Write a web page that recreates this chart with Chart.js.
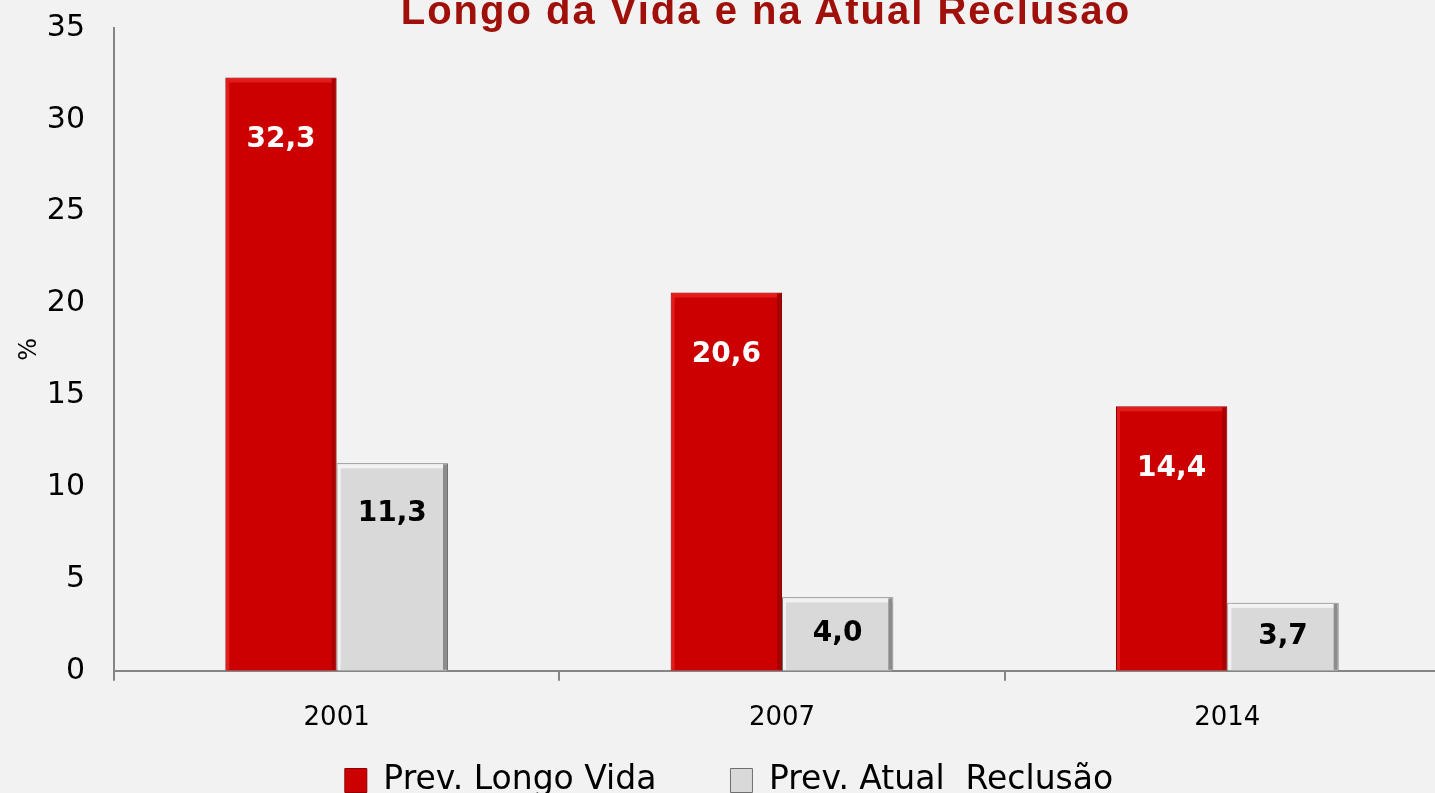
<!DOCTYPE html>
<html>
<head>
<meta charset="utf-8">
<title>Prevalencia</title>
<script src="https://cdn.jsdelivr.net/npm/chart.js@4/dist/chart.umd.min.js"></script>
<style>
    html, body { margin: 0; padding: 0; background: #f2f2f2; overflow: hidden; }
    #wrap { position: relative; width: 1435px; height: 793px; overflow: hidden; }
    #title {
        position: absolute; left: 0; width: 1532px; top: -10px;
        text-align: center; line-height: 1; letter-spacing: 2px;
        font-family: "Liberation Sans", Arial, sans-serif; font-weight: bold; font-size: 40px;
        color: #a0100a; z-index: 2;
    }
    #chart { position: absolute; left: 0; top: 0; }
</style>
</head>
<body>
<div id="wrap">
    <div id="title">Longo da Vida e na Atual Reclusão</div>
    <canvas id="chart" width="1450" height="807"></canvas>
</div>
<script>
// data
var years = ['2001', '2007', '2014'];
var prevLongoVida = [32.3, 20.6, 14.4];
var prevAtualReclusao = [11.3, 4.0, 3.7];
var seriesNames = ['Prev. Longo Vida', 'Prev. Atual  Reclusão'];
var yTicksMax = 35;
var yTicksStep = 5;

// draws value labels inside the top of each bar
var valueLabels = {
    id: 'valueLabels',
    afterDatasetsDraw: function (chart) {
        var ctx = chart.ctx;
        ctx.save();
        ctx.font = 'bold 28px "DejaVu Sans", Verdana, sans-serif';
        ctx.textAlign = 'center';
        ctx.textBaseline = 'middle';
        chart.data.datasets.forEach(function (ds, i) {
            var meta = chart.getDatasetMeta(i);
            meta.data.forEach(function (bar, j) {
                var h = bar.base - bar.y;
                var off = Math.min(ds.labelOffset, h / 2);
                ctx.fillStyle = ds.labelColor;
                ctx.fillText(ds.data[j].toFixed(1).replace('.', ','), bar.x, bar.y + off);
            });
        });
        ctx.restore();
    }
};

// fake the bevelled look of the original bars
var bevel = {
    id: 'bevel',
    afterDatasetsDraw: function (chart) {
        var ctx = chart.ctx;
        ctx.save();
        chart.data.datasets.forEach(function (ds, i) {
            chart.getDatasetMeta(i).data.forEach(function (bar) {
                var l = bar.x - bar.width / 2, r = bar.x + bar.width / 2;
                var t = bar.y, b = bar.base;
                ctx.fillStyle = ds.lightColor;
                ctx.fillRect(l + 1, t + 1, r - l - 2, 4);
                ctx.fillRect(l + 1, t + 1, 3, b - t - 2);
                ctx.fillStyle = ds.darkColor;
                ctx.fillRect(r - 5, t + 1, 4, b - t - 2);
            });
        });
        ctx.restore();
    }
};

var axisColor = '#858585';
var fontFamily = '"DejaVu Sans", Verdana, sans-serif';

var chart = new Chart(document.getElementById('chart'), {
    type: 'bar',
    data: {
        labels: years,
        datasets: [{
            label: seriesNames[0],
            data: prevLongoVida,
            backgroundColor: '#cc0000',
            borderColor: '#8e0000',
            borderWidth: 1,
            lightColor: '#e31b1b',
            darkColor: '#a80000',
            labelColor: '#ffffff',
            labelOffset: 62
        }, {
            label: seriesNames[1],
            data: prevAtualReclusao,
            backgroundColor: '#d9d9d9',
            borderColor: '#6f6f6f',
            borderWidth: 1,
            lightColor: '#f2f2f2',
            darkColor: '#8c8c8c',
            labelColor: '#000000',
            labelOffset: 50
        }]
    },
    options: {
        responsive: false,
        animation: false,
        devicePixelRatio: 1,
        layout: { padding: { left: 8, top: 28, right: 0, bottom: 0 } },
        datasets: {
            bar: { categoryPercentage: 0.5, barPercentage: 1.0 }
        },
        scales: {
            x: {
                grid: {
                    display: true, drawOnChartArea: false, drawTicks: true,
                    tickLength: 10, color: axisColor, lineWidth: 2
                },
                border: { display: true, color: axisColor, width: 2 },
                ticks: { color: '#000', padding: 22, font: { family: fontFamily, size: 26 } }
            },
            y: {
                min: 0,
                max: yTicksMax,
                // tick padding is added above the top label too; drop it so the top lines up
                afterFit: function (scale) { scale.paddingTop = 0; },
                grid: { display: false, drawTicks: false },
                border: { display: true, color: axisColor, width: 2 },
                ticks: { stepSize: yTicksStep, color: '#000', padding: 29, font: { family: fontFamily, size: 30 } },
                title: {
                    display: true, text: '%', color: '#000',
                    padding: { top: 7, bottom: -26 },
                    font: { family: fontFamily, size: 24 }
                }
            }
        },
        plugins: {
            title: { display: false },
            tooltip: { enabled: false },
            legend: {
                position: 'bottom',
                labels: {
                    color: '#000',
                    boxWidth: 22,
                    boxHeight: 24,
                    padding: 8,
                    font: { family: fontFamily, size: 33 },
                    generateLabels: function (chart) {
                        var items = Chart.defaults.plugins.legend.labels.generateLabels(chart);
                        // extra gap between the two entries, like the original
                        items.forEach(function (it, k) {
                            if (k < items.length - 1) it.text = it.text + '\u2003\u2003';
                        });
                        return items;
                    }
                }
            }
        }
    },
    plugins: [bevel, valueLabels]
});
</script>
</body>
</html>
